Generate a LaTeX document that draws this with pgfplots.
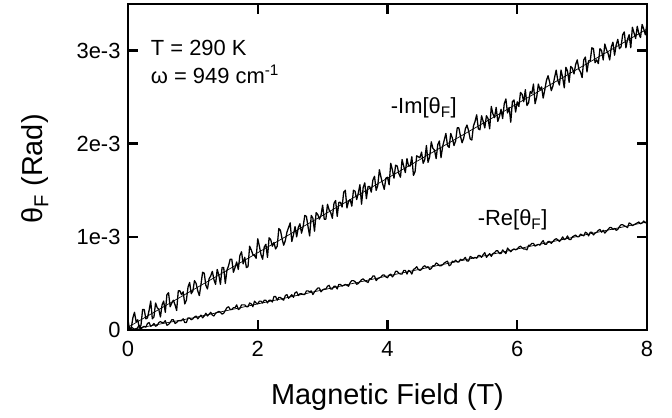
\documentclass[border=0pt]{standalone}
\usepackage{fontspec}
\setmainfont{Liberation Sans}
\usepackage{pgfplots}
\pgfplotsset{compat=1.18}
\begin{document}
\begin{tikzpicture}
\begin{axis}[
  scale only axis, width=519bp, height=326bp,
  xmin=0, xmax=8, ymin=0, ymax=3.5e-3,
  xtick={0,2,4,6,8}, ytick={0,1e-3,2e-3,3e-3},
  yticklabels={0,1e-3,2e-3,3e-3},
  scaled y ticks=false,
  /pgf/number format/assume math mode=true,
  tick align=inside, major tick length=10bp,
  axis line style={line width=3pt},
  axis background/.style={draw=black, line width=3pt},
  every tick/.append style={line width=2.5pt, black},
  xtick style={line width=2.5pt}, ytick style={line width=2.5pt},
  ticklabel style={font=\fontsize{22}{26}\selectfont},
  xticklabel style={yshift=-8bp},
  yticklabel style={xshift=-4bp},
  label style={font=\fontsize{29}{34}\selectfont},
  xlabel={Magnetic Field (T)},
  ylabel={θ\textsubscript{F} (Rad)},
  xlabel style={at={(axis description cs:0.5,-0.227)}, anchor=base},
  ylabel style={at={(axis description cs:-0.164,0.494)}, anchor=base},
]
\coordinate (sw) at (rel axis cs:0,0);
% -Im, measured
\addplot[black, line width=1.3pt, line join=round] coordinates {
(0,0.11e-3) (0.025,0) (0.05,0.02e-3) (0.075,0.13e-3) (0.1,0.19e-3) (0.125,0.09e-3) (0.15,0.11e-3) (0.175,0.02e-3) (0.2,0.05e-3) (0.225,0.22e-3)
(0.25,0.22e-3) (0.275,0.12e-3) (0.3,0.13e-3) (0.325,0.21e-3) (0.35,0.31e-3) (0.375,0.12e-3) (0.4,0.14e-3) (0.425,0.29e-3) (0.45,0.24e-3) (0.475,0.22e-3)
(0.5,0.14e-3) (0.525,0.27e-3) (0.55,0.31e-3) (0.575,0.19e-3) (0.6,0.38e-3) (0.625,0.40e-3) (0.65,0.25e-3) (0.675,0.29e-3) (0.7,0.32e-3) (0.725,0.27e-3)
(0.75,0.21e-3) (0.775,0.42e-3) (0.8,0.42e-3) (0.825,0.38e-3) (0.85,0.41e-3) (0.875,0.28e-3) (0.9,0.32e-3) (0.925,0.46e-3) (0.95,0.51e-3) (0.975,0.39e-3)
(1.0,0.42e-3) (1.025,0.53e-3) (1.05,0.50e-3) (1.075,0.42e-3) (1.1,0.37e-3) (1.125,0.49e-3) (1.15,0.62e-3) (1.175,0.61e-3) (1.2,0.48e-3) (1.225,0.44e-3)
(1.25,0.55e-3) (1.275,0.58e-3) (1.3,0.63e-3) (1.325,0.54e-3) (1.35,0.49e-3) (1.375,0.65e-3) (1.4,0.59e-3) (1.425,0.49e-3) (1.45,0.67e-3) (1.475,0.67e-3)
(1.5,0.50e-3) (1.525,0.64e-3) (1.55,0.69e-3) (1.575,0.76e-3) (1.6,0.76e-3) (1.625,0.62e-3) (1.65,0.67e-3) (1.675,0.73e-3) (1.7,0.65e-3) (1.725,0.80e-3)
(1.75,0.84e-3) (1.775,0.71e-3) (1.8,0.78e-3) (1.825,0.67e-3) (1.85,0.68e-3) (1.875,0.90e-3) (1.9,0.86e-3) (1.925,0.81e-3) (1.95,0.80e-3) (1.975,0.77e-3)
(2.0,0.98e-3) (2.025,0.90e-3) (2.05,0.81e-3) (2.075,0.76e-3) (2.1,0.89e-3) (2.125,0.92e-3) (2.15,0.78e-3) (2.175,0.99e-3) (2.2,0.97e-3) (2.225,0.90e-3)
(2.25,0.94e-3) (2.275,0.87e-3) (2.3,0.90e-3) (2.325,1.09e-3) (2.35,1.07e-3) (2.375,0.98e-3) (2.4,0.91e-3) (2.425,0.96e-3) (2.45,1.05e-3) (2.475,1.10e-3)
(2.5,1.15e-3) (2.525,0.95e-3) (2.55,1.02e-3) (2.575,1.11e-3) (2.6,1.00e-3) (2.625,1.10e-3) (2.65,1.14e-3) (2.675,1.04e-3) (2.7,1.11e-3) (2.725,1.23e-3)
(2.75,1.22e-3) (2.775,1.11e-3) (2.8,1.01e-3) (2.825,1.23e-3) (2.85,1.20e-3) (2.875,1.06e-3) (2.9,1.26e-3) (2.925,1.24e-3) (2.95,1.19e-3) (2.975,1.23e-3)
(3.0,1.34e-3) (3.025,1.19e-3) (3.05,1.19e-3) (3.075,1.35e-3) (3.1,1.29e-3) (3.125,1.26e-3) (3.15,1.20e-3) (3.175,1.36e-3) (3.2,1.39e-3) (3.225,1.22e-3)
(3.25,1.37e-3) (3.275,1.37e-3) (3.3,1.32e-3) (3.325,1.48e-3) (3.35,1.50e-3) (3.375,1.31e-3) (3.4,1.38e-3) (3.425,1.40e-3) (3.45,1.33e-3) (3.475,1.50e-3)
(3.5,1.49e-3) (3.525,1.40e-3) (3.55,1.47e-3) (3.575,1.56e-3) (3.6,1.35e-3) (3.625,1.53e-3) (3.65,1.58e-3) (3.675,1.41e-3) (3.7,1.54e-3) (3.725,1.54e-3)
(3.75,1.48e-3) (3.775,1.61e-3) (3.8,1.65e-3) (3.825,1.50e-3) (3.85,1.55e-3) (3.875,1.72e-3) (3.9,1.64e-3) (3.925,1.57e-3) (3.95,1.51e-3) (3.975,1.63e-3)
(4.0,1.64e-3) (4.025,1.56e-3) (4.05,1.79e-3) (4.075,1.72e-3) (4.1,1.63e-3) (4.125,1.77e-3) (4.15,1.76e-3) (4.175,1.68e-3) (4.2,1.64e-3) (4.225,1.83e-3)
(4.25,1.76e-3) (4.275,1.69e-3) (4.3,1.84e-3) (4.325,1.76e-3) (4.35,1.76e-3) (4.375,1.86e-3) (4.4,1.66e-3) (4.425,1.70e-3) (4.45,1.87e-3) (4.475,1.86e-3)
(4.5,1.85e-3) (4.525,1.91e-3) (4.55,1.79e-3) (4.575,1.83e-3) (4.6,1.98e-3) (4.625,1.80e-3) (4.65,1.86e-3) (4.675,2.02e-3) (4.7,1.95e-3) (4.725,1.93e-3)
(4.75,1.84e-3) (4.775,1.99e-3) (4.8,2.03e-3) (4.825,1.85e-3) (4.85,1.97e-3) (4.875,2.04e-3) (4.9,2.11e-3) (4.925,1.98e-3) (4.95,1.96e-3) (4.975,2.11e-3)
(5.0,2.06e-3) (5.025,1.98e-3) (5.05,2.03e-3) (5.075,2.17e-3) (5.1,2.17e-3) (5.125,2.08e-3) (5.15,2.01e-3) (5.175,2.06e-3) (5.2,2.16e-3) (5.225,2.20e-3)
(5.25,2.14e-3) (5.275,2.05e-3) (5.3,2.04e-3) (5.325,2.19e-3) (5.35,2.24e-3) (5.375,2.31e-3) (5.4,2.16e-3) (5.425,2.15e-3) (5.45,2.30e-3) (5.475,2.24e-3)
(5.5,2.17e-3) (5.525,2.30e-3) (5.55,2.27e-3) (5.575,2.16e-3) (5.6,2.40e-3) (5.625,2.32e-3) (5.65,2.28e-3) (5.675,2.39e-3) (5.7,2.24e-3) (5.725,2.29e-3)
(5.75,2.37e-3) (5.775,2.27e-3) (5.8,2.43e-3) (5.825,2.48e-3) (5.85,2.33e-3) (5.875,2.39e-3) (5.9,2.23e-3) (5.925,2.45e-3) (5.95,2.47e-3) (5.975,2.34e-3)
(6.0,2.45e-3) (6.025,2.40e-3) (6.05,2.55e-3) (6.075,2.53e-3) (6.1,2.45e-3) (6.125,2.58e-3) (6.15,2.41e-3) (6.175,2.44e-3) (6.2,2.56e-3) (6.225,2.54e-3)
(6.25,2.64e-3) (6.275,2.43e-3) (6.3,2.50e-3) (6.325,2.64e-3) (6.35,2.58e-3) (6.375,2.61e-3) (6.4,2.49e-3) (6.425,2.58e-3) (6.45,2.68e-3) (6.475,2.73e-3)
(6.5,2.66e-3) (6.525,2.57e-3) (6.55,2.62e-3) (6.575,2.71e-3) (6.6,2.79e-3) (6.625,2.68e-3) (6.65,2.63e-3) (6.675,2.79e-3) (6.7,2.71e-3) (6.725,2.60e-3)
(6.75,2.82e-3) (6.775,2.78e-3) (6.8,2.66e-3) (6.825,2.83e-3) (6.85,2.81e-3) (6.875,2.75e-3) (6.9,2.85e-3) (6.925,2.90e-3) (6.95,2.80e-3) (6.975,2.77e-3)
(7.0,2.71e-3) (7.025,2.90e-3) (7.05,2.93e-3) (7.075,2.77e-3) (7.1,2.89e-3) (7.125,2.89e-3) (7.15,3.03e-3) (7.175,3.02e-3) (7.2,2.87e-3) (7.225,2.90e-3)
(7.25,2.86e-3) (7.275,3.02e-3) (7.3,3.00e-3) (7.325,2.90e-3) (7.35,3.07e-3) (7.375,3.01e-3) (7.4,2.97e-3) (7.425,2.90e-3) (7.45,3.04e-3) (7.475,3.09e-3)
(7.5,2.95e-3) (7.525,3.06e-3) (7.55,3.12e-3) (7.575,3.02e-3) (7.6,3.04e-3) (7.625,3.17e-3) (7.65,3.20e-3) (7.675,3.03e-3) (7.7,3.12e-3) (7.725,3.17e-3)
(7.75,3.03e-3) (7.775,3.25e-3) (7.8,3.19e-3) (7.825,3.13e-3) (7.85,3.26e-3) (7.875,3.18e-3) (7.9,3.14e-3) (7.925,3.28e-3) (7.95,3.23e-3) (7.975,3.17e-3)
(8.0,3.29e-3)
};
% -Im, fit
\addplot[black, line width=0.7pt] coordinates {(0,0.03e-3) (2,0.83e-3) (4,1.63e-3) (6,2.43e-3) (8,3.23e-3)};
% -Re, measured
\addplot[black, line width=1.2pt, line join=round] coordinates {
(0,0) (0.025,0) (0.05,0.03e-3) (0.075,0.02e-3) (0.1,0) (0.125,0) (0.15,0.03e-3) (0.175,0.05e-3) (0.2,0.01e-3) (0.225,0.03e-3)
(0.25,0.04e-3) (0.275,0.03e-3) (0.3,0.07e-3) (0.325,0.08e-3) (0.35,0.04e-3) (0.375,0.05e-3) (0.4,0.07e-3) (0.425,0.04e-3) (0.45,0.05e-3) (0.475,0.08e-3)
(0.5,0.09e-3) (0.525,0.08e-3) (0.55,0.08e-3) (0.575,0.10e-3) (0.6,0.05e-3) (0.625,0.06e-3) (0.65,0.08e-3) (0.675,0.11e-3) (0.7,0.11e-3) (0.725,0.07e-3)
(0.75,0.08e-3) (0.775,0.10e-3) (0.8,0.10e-3) (0.825,0.10e-3) (0.85,0.12e-3) (0.875,0.08e-3) (0.9,0.08e-3) (0.925,0.13e-3) (0.95,0.13e-3) (0.975,0.11e-3)
(1.0,0.12e-3) (1.025,0.14e-3) (1.05,0.15e-3) (1.075,0.12e-3) (1.1,0.14e-3) (1.125,0.16e-3) (1.15,0.13e-3) (1.175,0.15e-3) (1.2,0.18e-3) (1.225,0.15e-3)
(1.25,0.17e-3) (1.275,0.19e-3) (1.3,0.16e-3) (1.325,0.15e-3) (1.35,0.18e-3) (1.375,0.19e-3) (1.4,0.20e-3) (1.425,0.19e-3) (1.45,0.17e-3) (1.475,0.18e-3)
(1.5,0.21e-3) (1.525,0.24e-3) (1.55,0.25e-3) (1.575,0.22e-3) (1.6,0.22e-3) (1.625,0.24e-3) (1.65,0.24e-3) (1.675,0.27e-3) (1.7,0.22e-3) (1.725,0.23e-3)
(1.75,0.27e-3) (1.775,0.27e-3) (1.8,0.27e-3) (1.825,0.25e-3) (1.85,0.25e-3) (1.875,0.29e-3) (1.9,0.28e-3) (1.925,0.25e-3) (1.95,0.31e-3) (1.975,0.29e-3)
(2.0,0.28e-3) (2.025,0.31e-3) (2.05,0.31e-3) (2.075,0.29e-3) (2.1,0.32e-3) (2.125,0.32e-3) (2.15,0.29e-3) (2.175,0.32e-3) (2.2,0.32e-3) (2.225,0.30e-3)
(2.25,0.36e-3) (2.275,0.36e-3) (2.3,0.32e-3) (2.325,0.35e-3) (2.35,0.35e-3) (2.375,0.33e-3) (2.4,0.32e-3) (2.425,0.37e-3) (2.45,0.38e-3) (2.475,0.34e-3)
(2.5,0.36e-3) (2.525,0.38e-3) (2.55,0.35e-3) (2.575,0.40e-3) (2.6,0.41e-3) (2.625,0.37e-3) (2.65,0.39e-3) (2.675,0.39e-3) (2.7,0.38e-3) (2.725,0.38e-3)
(2.75,0.42e-3) (2.775,0.42e-3) (2.8,0.41e-3) (2.825,0.42e-3) (2.85,0.38e-3) (2.875,0.41e-3) (2.9,0.43e-3) (2.925,0.45e-3) (2.95,0.45e-3) (2.975,0.41e-3)
(3.0,0.43e-3) (3.025,0.44e-3) (3.05,0.44e-3) (3.075,0.47e-3) (3.1,0.48e-3) (3.125,0.44e-3) (3.15,0.44e-3) (3.175,0.47e-3) (3.2,0.47e-3) (3.225,0.44e-3)
(3.25,0.49e-3) (3.275,0.49e-3) (3.3,0.47e-3) (3.325,0.48e-3) (3.35,0.49e-3) (3.375,0.48e-3) (3.4,0.47e-3) (3.425,0.51e-3) (3.45,0.53e-3) (3.475,0.53e-3)
(3.5,0.52e-3) (3.525,0.49e-3) (3.55,0.50e-3) (3.575,0.52e-3) (3.6,0.54e-3) (3.625,0.55e-3) (3.65,0.53e-3) (3.675,0.52e-3) (3.7,0.51e-3) (3.725,0.55e-3)
(3.75,0.55e-3) (3.775,0.58e-3) (3.8,0.58e-3) (3.825,0.53e-3) (3.85,0.55e-3) (3.875,0.56e-3) (3.9,0.57e-3) (3.925,0.59e-3) (3.95,0.59e-3) (3.975,0.57e-3)
(4.0,0.56e-3) (4.025,0.59e-3) (4.05,0.60e-3) (4.075,0.57e-3) (4.1,0.59e-3) (4.125,0.63e-3) (4.15,0.63e-3) (4.175,0.61e-3) (4.2,0.60e-3) (4.225,0.60e-3)
(4.25,0.64e-3) (4.275,0.64e-3) (4.3,0.60e-3) (4.325,0.64e-3) (4.35,0.63e-3) (4.375,0.60e-3) (4.4,0.65e-3) (4.425,0.66e-3) (4.45,0.68e-3) (4.475,0.65e-3)
(4.5,0.64e-3) (4.525,0.65e-3) (4.55,0.68e-3) (4.575,0.69e-3) (4.6,0.67e-3) (4.625,0.68e-3) (4.65,0.65e-3) (4.675,0.66e-3) (4.7,0.69e-3) (4.725,0.69e-3)
(4.75,0.72e-3) (4.775,0.71e-3) (4.8,0.69e-3) (4.825,0.69e-3) (4.85,0.70e-3) (4.875,0.72e-3) (4.9,0.73e-3) (4.925,0.74e-3) (4.95,0.69e-3) (4.975,0.70e-3)
(5.0,0.74e-3) (5.025,0.73e-3) (5.05,0.75e-3) (5.075,0.73e-3) (5.1,0.73e-3) (5.125,0.76e-3) (5.15,0.75e-3) (5.175,0.76e-3) (5.2,0.78e-3) (5.225,0.74e-3)
(5.25,0.74e-3) (5.275,0.79e-3) (5.3,0.78e-3) (5.325,0.77e-3) (5.35,0.78e-3) (5.375,0.77e-3) (5.4,0.80e-3) (5.425,0.80e-3) (5.45,0.78e-3) (5.475,0.81e-3)
(5.5,0.83e-3) (5.525,0.78e-3) (5.55,0.80e-3) (5.575,0.82e-3) (5.6,0.79e-3) (5.625,0.82e-3) (5.65,0.83e-3) (5.675,0.85e-3) (5.7,0.85e-3) (5.725,0.82e-3)
(5.75,0.82e-3) (5.775,0.86e-3) (5.8,0.84e-3) (5.825,0.82e-3) (5.85,0.88e-3) (5.875,0.86e-3) (5.9,0.84e-3) (5.925,0.86e-3) (5.95,0.87e-3) (5.975,0.86e-3)
(6.0,0.87e-3) (6.025,0.89e-3) (6.05,0.90e-3) (6.075,0.88e-3) (6.1,0.87e-3) (6.125,0.87e-3) (6.15,0.86e-3) (6.175,0.91e-3) (6.2,0.91e-3) (6.225,0.93e-3)
(6.25,0.93e-3) (6.275,0.90e-3) (6.3,0.91e-3) (6.325,0.92e-3) (6.35,0.91e-3) (6.375,0.94e-3) (6.4,0.96e-3) (6.425,0.92e-3) (6.45,0.92e-3) (6.475,0.95e-3)
(6.5,0.95e-3) (6.525,0.93e-3) (6.55,0.95e-3) (6.575,0.97e-3) (6.6,0.98e-3) (6.625,0.97e-3) (6.65,0.95e-3) (6.675,0.97e-3) (6.7,1.00e-3) (6.725,0.97e-3)
(6.75,0.98e-3) (6.775,1.01e-3) (6.8,0.97e-3) (6.825,0.97e-3) (6.85,1.00e-3) (6.875,1.01e-3) (6.9,1.02e-3) (6.925,1.00e-3) (6.95,1.00e-3) (6.975,1.03e-3)
(7.0,1.02e-3) (7.025,1.01e-3) (7.05,1.05e-3) (7.075,1.04e-3) (7.1,1.01e-3) (7.125,1.05e-3) (7.15,1.05e-3) (7.175,1.02e-3) (7.2,1.04e-3) (7.225,1.05e-3)
(7.25,1.07e-3) (7.275,1.08e-3) (7.3,1.05e-3) (7.325,1.07e-3) (7.35,1.04e-3) (7.375,1.06e-3) (7.4,1.08e-3) (7.425,1.10e-3) (7.45,1.10e-3) (7.475,1.08e-3)
(7.5,1.09e-3) (7.525,1.07e-3) (7.55,1.08e-3) (7.575,1.11e-3) (7.6,1.13e-3) (7.625,1.13e-3) (7.65,1.12e-3) (7.675,1.11e-3) (7.7,1.10e-3) (7.725,1.15e-3)
(7.75,1.14e-3) (7.775,1.12e-3) (7.8,1.13e-3) (7.825,1.14e-3) (7.85,1.15e-3) (7.875,1.16e-3) (7.9,1.14e-3) (7.925,1.15e-3) (7.95,1.17e-3) (7.975,1.15e-3)
(8.0,1.17e-3)
};
% -Re, fit
\addplot[black, line width=0.7pt] coordinates {(0,0) (1,0.13e-3) (2,0.28e-3) (3,0.43e-3) (4,0.58e-3) (5,0.725e-3) (6,0.87e-3) (7,1.015e-3) (8,1.16e-3)};
\node[anchor=base west, inner sep=0pt, font=\fontsize{22}{26}\selectfont] at (axis cs:0.35,2.95e-3) {T = 290 K};
\node[anchor=base west, inner sep=0pt, font=\fontsize{22}{26}\selectfont] at (axis cs:0.35,2.65e-3) {ω = 949 cm\textsuperscript{-1}};
\node[anchor=base west, inner sep=0pt, font=\fontsize{22}{26}\selectfont] at (axis cs:4.05,2.32e-3) {-Im[θ\textsubscript{F}]};
\node[anchor=base west, inner sep=0pt, font=\fontsize{22}{26}\selectfont] at (axis cs:5.39,1.12e-3) {-Re[θ\textsubscript{F}]};
\end{axis}
\path (sw) ++(-128bp,-88bp) rectangle ++(672bp,418bp);
\end{tikzpicture}
\end{document}
